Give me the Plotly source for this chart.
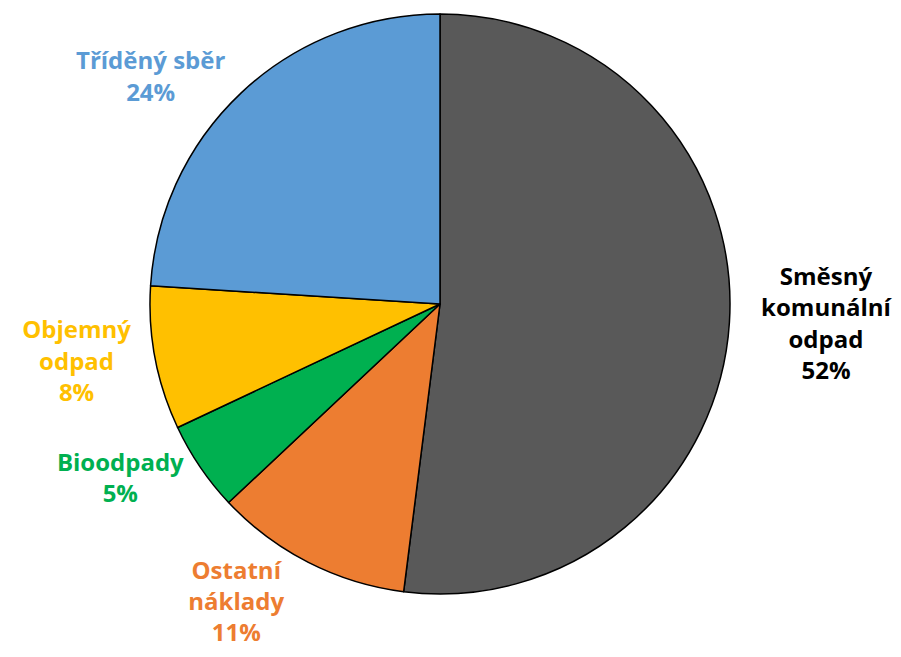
import plotly.graph_objects as go

labels = ["Směsný<br>komunální<br>odpad", "Ostatní<br>náklady", "Bioodpady", "Objemný<br>odpad", "Tříděný sběr"]
values = [52, 11, 5, 8, 24]
colors = ["#595959", "#ED7D31", "#00B050", "#FFC000", "#5B9BD5"]
label_colors = ["#000000", "#ED7D31", "#00B050", "#FFC000", "#5B9BD5"]

fig = go.Figure(go.Pie(
    labels=labels,
    values=values,
    sort=False,
    direction="clockwise",
    rotation=0,
    marker=dict(colors=colors, line=dict(color="#000000", width=1.5)),
    texttemplate="%{label}<br>%{percent:.0%}",
    textposition="outside",
    outsidetextfont=dict(family="Open Sans", size=24, color=label_colors, weight="bold"),
    showlegend=False,
    domain=dict(x=[142/901, 722/901], y=[0, 1]),
    hoverinfo="label+percent",
))

fig.update_layout(
    width=901, height=657,
    margin=dict(l=0, r=0, t=6, b=71),
    paper_bgcolor="white",
    plot_bgcolor="white",
)

fig.write_html("out.html")
